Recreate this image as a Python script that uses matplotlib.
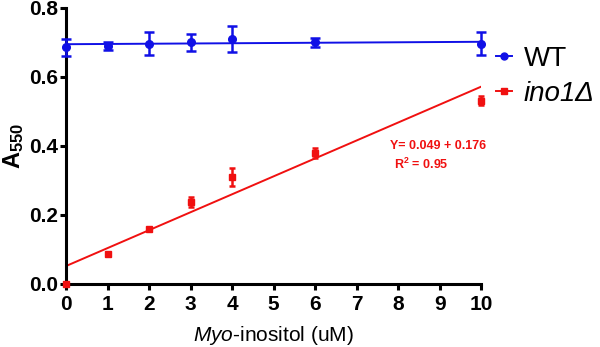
import numpy as np
import matplotlib.pyplot as plt
from matplotlib.lines import Line2D

plt.rcParams['font.family'] = 'Liberation Sans'
plt.rcParams['mathtext.fontset'] = 'custom'
plt.rcParams['mathtext.rm'] = 'Liberation Sans'
plt.rcParams['mathtext.it'] = 'Liberation Sans:italic'
plt.rcParams['mathtext.bf'] = 'Liberation Sans:bold'

conc = np.array([0, 1, 2, 3, 4, 6, 10])
wt = np.array([0.686, 0.690, 0.697, 0.700, 0.710, 0.700, 0.696])
wt_err = np.array([0.024, 0.012, 0.033, 0.024, 0.037, 0.014, 0.033])
ino1 = np.array([0.0, 0.087, 0.159, 0.238, 0.311, 0.380, 0.531])
ino1_err = np.array([0.0, 0.004, 0.004, 0.015, 0.026, 0.015, 0.013])

# fitted lines (intercept, slope) as drawn in the figure
wt_fit = (0.695, 0.0007)
ino1_fit = (0.052, 0.052)

blue = '#1010e6'
red = '#f01010'

fig = plt.figure(figsize=(6, 3.47), dpi=100)
ax = fig.add_axes([0.11, 0.1816, 0.692, 0.7954])

xx = np.array([0, 10])
ax.plot(xx, wt_fit[0] + wt_fit[1] * xx, color=blue, lw=1.4)
ax.plot(xx, ino1_fit[0] + ino1_fit[1] * xx, color=red, lw=1.4)

ax.errorbar(conc, wt, yerr=wt_err, fmt='o', color=blue, ms=5.5,
            elinewidth=1.8, capsize=3.5, capthick=1.8, clip_on=False, zorder=3)
ax.errorbar(conc, ino1, yerr=ino1_err, fmt='s', color=red, ms=4,
            elinewidth=1.8, capsize=2.5, capthick=1.8, clip_on=False, zorder=3)

ax.set_xlim(0, 10)
ax.set_ylim(0, 0.8)
ax.set_xticks(range(0, 11))
ax.set_yticks([0, 0.2, 0.4, 0.6, 0.8])
ax.set_yticklabels(['0.0', '0.2', '0.4', '0.6', '0.8'])
for s in ['top', 'right']:
    ax.spines[s].set_visible(False)
for s in ['left', 'bottom']:
    ax.spines[s].set_linewidth(2.2)
ax.tick_params(width=2.2, length=4, labelsize=15, direction='out')
ax.tick_params(axis='y', pad=2)
ax.tick_params(axis='x', pad=4)
for lab in ax.get_xticklabels() + ax.get_yticklabels():
    lab.set_fontweight('bold')

ax.set_xlabel(r'$\mathit{Myo}$-inositol (uM)', fontsize=15, labelpad=7)
ax.set_ylabel(r'$\mathbf{A}_{\mathbf{550}}$', fontsize=17, labelpad=2)

ax.text(7.8, 0.40, 'Y= 0.049 + 0.176', color=red, fontsize=9,
        fontweight='bold', va='center')
ax.text(7.9, 0.348, r'R$^{\mathbf{2}}$ = 0.95', color=red, fontsize=9,
        fontweight='bold', va='center')

handles = [Line2D([], [], color=blue, marker='o', ms=5, lw=1.4),
           Line2D([], [], color=red, marker='s', ms=4, lw=1.4)]
labels = ['WT', 'ino1Δ']
leg = fig.legend(handles, labels, loc='center left', bbox_to_anchor=(0.826, 0.78),
                 frameon=False, fontsize=20, handlelength=0.6, handletextpad=0.4,
                 labelspacing=0.3, borderpad=0, borderaxespad=0)
leg.get_texts()[1].set_style('italic')

fig.savefig('out.png', dpi=100)
